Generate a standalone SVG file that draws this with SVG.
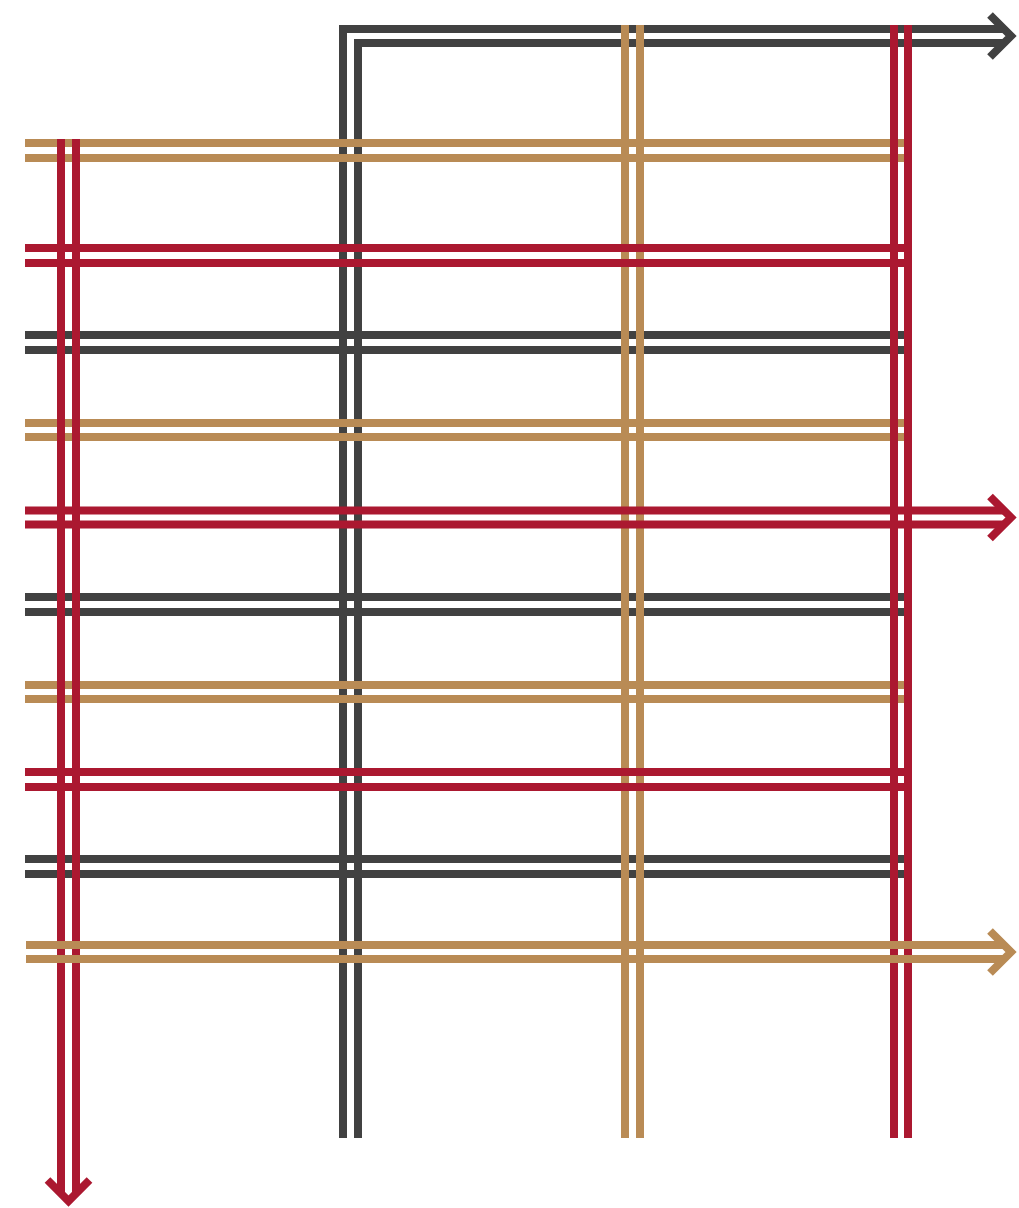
<svg xmlns="http://www.w3.org/2000/svg" width="1019" height="1208" viewBox="0 0 1019 1208">
<style>
  .ln { fill: none; stroke-width: 8; stroke-linecap: butt; stroke-linejoin: miter; stroke-miterlimit: 10; }
  .k { stroke: #414141; }
  .t { stroke: #b98b55; }
  .r { stroke: #ab1830; }
</style>
<rect width="1019" height="1208" fill="#ffffff"/>
<g id="connectors">
  <g id="black-main">
    <path class="ln k" d="M343,1138 V29 H1005"/>
    <path class="ln k" d="M358,1138 V43 H1005"/>
    <polyline class="ln k" points="990,15 1011,36 990,57"/>
  </g>
  <g id="black-rows">
    <path class="ln k" d="M25,335 H904 M25,350 H904"/>
    <path class="ln k" d="M25,597 H904 M25,612 H904"/>
    <path class="ln k" d="M25,859 H904 M25,874 H904"/>
  </g>
  <g id="tan-column">
    <path class="ln t" d="M625,25 V1138 M640,25 V1138"/>
  </g>
  <g id="tan-rows">
    <path class="ln t" d="M25,143 H904 M25,158 H904"/>
    <path class="ln t" d="M25,423 H904 M25,437 H904"/>
    <path class="ln t" d="M25,685 H904 M25,699 H904"/>
  </g>
  <g id="red-rows">
    <path class="ln r" d="M25,248 H904 M25,263 H904"/>
    <path class="ln r" d="M25,772 H904 M25,787 H904"/>
  </g>
  <g id="red-arrow-row">
    <path class="ln r" d="M25,510.5 H1005 M25,524.5 H1005"/>
    <polyline class="ln r" points="990,496.5 1011,517.5 990,538.5"/>
  </g>
  <g id="red-right-column">
    <path class="ln r" d="M894,25 V1138 M908,25 V1138"/>
  </g>
  <g id="red-left-column">
    <path class="ln r" d="M61,139 V1195 M76,139 V1195"/>
    <polyline class="ln r" points="47.5,1180 68.5,1201 89.5,1180"/>
  </g>
  <g id="tan-arrow-row">
    <path class="ln t" d="M26,945 H1005 M26,959 H1005"/>
    <polyline class="ln t" points="990,931 1011,952 990,973"/>
  </g>
</g>
</svg>
